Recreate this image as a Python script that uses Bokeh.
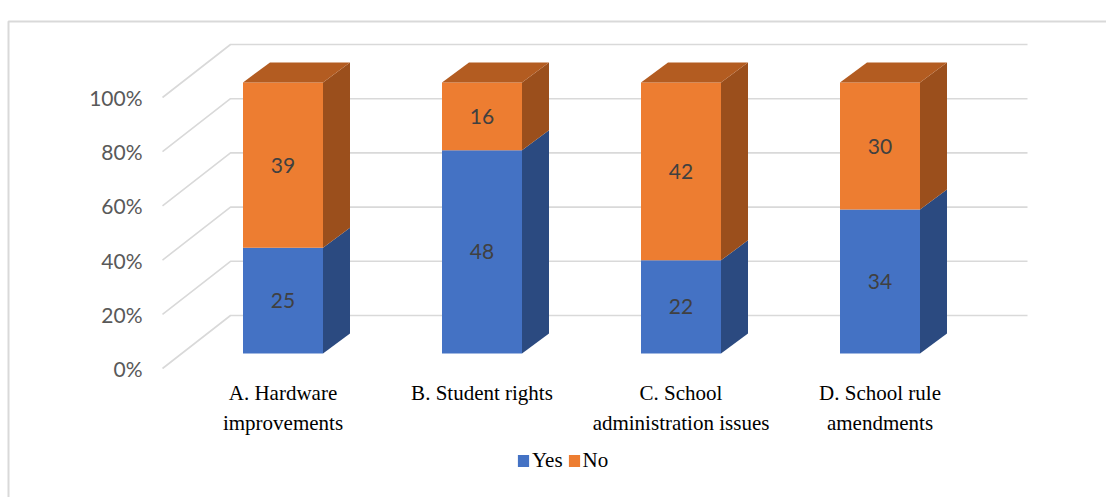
from bokeh.plotting import figure
from bokeh.models import Range1d, Legend, LegendItem
from bokeh.embed import file_html
from bokeh.resources import INLINE
from bokeh.core.properties import value

# ---------------- data ----------------
categories = ["A. Hardware\nimprovements", "B. Student rights",
              "C. School\nadministration issues", "D. School rule\namendments"]
yes_counts = [25, 48, 22, 34]
no_counts = [39, 16, 42, 30]
series_names = ["Yes", "No"]
y_ticks = [0, 20, 40, 60, 80, 100]
y_tick_labels = ["0%", "20%", "40%", "60%", "80%", "100%"]

# ---------------- layout / style ----------------
W, H = 1106, 497
X0, SX = 282.5, 199.0      # pixel of first category centre, pixels per category
Y0, SY = 353.0, 2.71       # pixel (from top) of 0 %, pixels per percent

BAR_W = 80 / SX
DX, DY = 27 / SX, 20 / SY          # bar depth
WALL_BACK_X = (230 - X0) / SX
WALL_FRONT_X = (162 - X0) / SX
WALL_RIGHT_X = (1027 - X0) / SX
WALL_BACK_DY = 38 / SY
WALL_FRONT_DY = -15 / SY

BLUE, BLUE_SIDE = "#4472C4", "#2B4A80"
ORANGE, ORANGE_SIDE, ORANGE_TOP = "#ED7D31", "#9B4F1C", "#B35C21"
GRID = "#D9D9D9"

p = figure(width=W, height=H, output_backend="svg", toolbar_location=None,
           x_range=Range1d(-X0 / SX, (W - X0) / SX),
           y_range=Range1d((Y0 - H) / SY, Y0 / SY),
           x_axis_location=None, y_axis_location=None,
           min_border=0, outline_line_color=None, tools="")
p.grid.visible = False
p.background_fill_color = "white"
p.border_fill_color = "white"

def px_x(px):
    return (px - X0) / SX

def px_y(py):
    return (Y0 - py) / SY

# outer chart border (left and top visible)
p.line([px_x(8), px_x(8), px_x(W + 20)], [px_y(H + 20), px_y(21), px_y(21)],
       line_color=GRID, line_width=2)

# gridlines: side wall diagonal + back wall horizontal
for t in y_ticks:
    p.line([WALL_FRONT_X, WALL_BACK_X, WALL_RIGHT_X],
           [t + WALL_FRONT_DY, t + WALL_BACK_DY, t + WALL_BACK_DY],
           line_color=GRID, line_width=1.6)

# tick labels
p.text(x=[WALL_FRONT_X] * len(y_ticks), y=[t + WALL_FRONT_DY for t in y_ticks],
       text=y_tick_labels, x_offset=-20, text_align="right", text_baseline="middle",
       text_font=value("Lato"), text_font_size="21px", text_color="#595959")

# bars
xs = list(range(len(categories)))
totals = [a + b for a, b in zip(yes_counts, no_counts)]
yes_pct = [a / t * 100 for a, t in zip(yes_counts, totals)]
left = [x - BAR_W / 2 for x in xs]
right = [x + BAR_W / 2 for x in xs]

r_yes = p.quad(left=left, right=right, bottom=[0] * len(xs), top=yes_pct,
               fill_color=BLUE, line_color=None)
r_no = p.quad(left=left, right=right, bottom=yes_pct, top=[100] * len(xs),
              fill_color=ORANGE, line_color=None)

# side faces
p.patches([[r, r + DX, r + DX, r] for r in right],
          [[0, DY, yp + DY, yp] for yp in yes_pct],
          fill_color=BLUE_SIDE, line_color=None)
p.patches([[r, r + DX, r + DX, r] for r in right],
          [[yp, yp + DY, 100 + DY, 100] for yp in yes_pct],
          fill_color=ORANGE_SIDE, line_color=None)
# top faces
p.patches([[l, r, r + DX, l + DX] for l, r in zip(left, right)],
          [[100, 100, 100 + DY, 100 + DY] for _ in xs],
          fill_color=ORANGE_TOP, line_color=None)

# data labels
p.text(x=xs, y=[yp / 2 for yp in yes_pct], text=[str(v) for v in yes_counts],
       text_align="center", text_baseline="middle", text_font=value("Lato"),
       text_font_size="21px", text_color="#404040")
p.text(x=xs, y=[(yp + 100) / 2 for yp in yes_pct], text=[str(v) for v in no_counts],
       text_align="center", text_baseline="middle", text_font=value("Lato"),
       text_font_size="21px", text_color="#404040")

# category labels
p.text(x=xs, y=[px_y(380)] * len(xs), text=categories,
       text_align="center", text_baseline="top", text_line_height=1.25,
       text_font=value("Liberation Serif"), text_font_size="21px", text_color="black")

# legend
legend = Legend(items=[LegendItem(label=series_names[0], renderers=[r_yes]),
                       LegendItem(label=series_names[1], renderers=[r_no])],
                orientation="horizontal", location=(516, 24),
                glyph_width=14, glyph_height=15, label_standoff=2, spacing=4,
                padding=0, margin=0, border_line_color=None,
                background_fill_alpha=0,
                label_text_font="Liberation Serif", label_text_font_size="21px",
                label_text_color="black", label_height=20)
p.add_layout(legend)

open("out.html", "w").write(file_html(p, INLINE))
